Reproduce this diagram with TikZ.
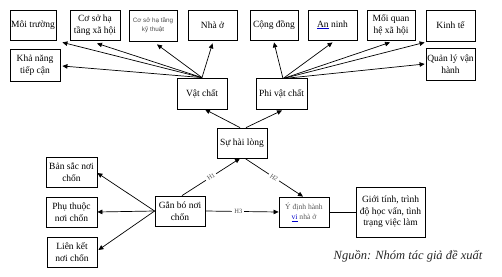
\documentclass[tikz,border=0pt]{standalone}
\usepackage{fontspec}
\setmainfont{Liberation Serif}
\newfontfamily\smallsans{Liberation Sans}
\usetikzlibrary{arrows.meta,calc}
\newcommand\blueul[1]{{\color{blue!80!black}$\underline{\hbox{#1}}$}}
\newcommand\blueulk[1]{{\color{blue!80!black}$\underline{\hbox{\color{black}#1}}$}}
\begin{document}
\begin{tikzpicture}[x=1pt,y=-1pt,
  box/.style={draw,line width=0.8pt,inner sep=0pt,align=center,
    font=\fontsize{9.5}{11.5}\selectfont},
  arr/.style={-{Triangle[length=5pt,width=4.5pt]},line width=0.7pt},
  con/.style={line width=0.7pt},
  hlab/.style={font=\fontsize{6.5}{6.5}\selectfont,text=black!70,fill=white,inner sep=2pt}]
\useasboundingbox (0,0) rectangle (502,276);
% top row
\node[box,minimum width=46pt,minimum height=30pt] (mt) at (33,25) {Môi trường};
\node[box,minimum width=50pt,minimum height=30pt] (xh) at (95,25) {Cơ sở hạ\\tầng xã hội};
\node[box,minimum width=48pt,minimum height=31pt,
  font=\smallsans\fontsize{6.3}{9}\selectfont,text=black!70] (kt) at (153,25.5) {Cơ sở hạ tầng\\kỹ thuật};
\node[box,minimum width=49pt,minimum height=30pt] (nho) at (212.5,25) {Nhà ở};
\node[box,minimum width=48pt,minimum height=30pt] (cd) at (274,25) {Cộng đồng};
\node[box,minimum width=49pt,minimum height=30pt] (an) at (332.5,25) {\blueulk{An} ninh};
\node[box,minimum width=48pt,minimum height=30pt] (qh) at (391,25) {Mối quan\\hệ xã hội};
\node[box,minimum width=49pt,minimum height=31pt] (kte) at (450.5,25.5) {Kinh tế};
\node[box,minimum width=49pt,minimum height=32pt] (ql) at (450.5,64) {Quản lý vận\\hành};
\node[box,minimum width=50pt,minimum height=32pt] (kn) at (35,65) {Khả năng\\tiếp cận};
% middle
\node[box,minimum width=50pt,minimum height=31pt] (vc) at (202,93.5) {Vật chất};
\node[box,minimum width=51pt,minimum height=31pt] (pvc) at (281.5,93.5) {Phi vật chất};
\node[box,minimum width=50pt,minimum height=30pt] (shl) at (242,143) {Sự hài lòng};
% bottom
\node[box,minimum width=51pt,minimum height=30pt] (bs) at (71.5,172) {Bản sắc nơi\\chốn};
\node[box,minimum width=51pt,minimum height=30pt] (pt) at (71.5,212) {Phụ thuộc\\nơi chốn};
\node[box,minimum width=50pt,minimum height=30pt] (lk) at (72,252) {Liên kết\\nơi chốn};
\node[box,minimum width=50pt,minimum height=30pt] (gb) at (180,211) {Gắn bó nơi\\chốn};
\node[box,minimum width=50pt,minimum height=30pt,
  font=\fontsize{7.6}{10}\selectfont,text=black!65] (yd) at (304,212) {Ý định hành\\\blueul{vi} nhà ở};
\node[box,minimum width=69pt,minimum height=50pt] (gt) at (390.5,212) {Giới tính, trình\\độ học vấn, tình\\trạng việc làm};
\node[font=\itshape\fontsize{12.5}{14}\selectfont,text=black!85,inner sep=0pt] (src) at (408,256) {Nguồn: Nhóm tác giả đề xuất};
% arrows from Vat chat
\draw[arr] (vc.north) -- ($(mt.south east)+(6,2)$);
\draw[arr] (vc.north) -- ($(xh.south)+(2,3)$);
\draw[arr] (vc.north) -- ($(kt.south)+(4,3)$);
\draw[arr] (vc.north) -- ($(nho.south)+(0,3)$);
\draw[arr] (vc.north) -- ($(kn.east)+(2,1)$);
% arrows from Phi vat chat
\coordinate (po) at ($(pvc.north)+(1.5,1)$);
\draw[arr] (po) -- ($(cd.south)+(0,2)$);
\draw[arr] (po) -- ($(an.south)+(0,2)$);
\draw[arr] (po) -- ($(qh.south)+(-1,2)$);
\draw[arr] (po) -- ($(kte.south west)+(-1,1)$);
\draw[arr] (po) -- ($(ql.west)+(-1,0)$);
% su hai long
\draw[arr] ($(shl.north)+(-2,0)$) -- ($(vc.south)+(3,0)$);
\draw[arr] ($(shl.north)+(4,0)$) -- ($(pvc.south)+(0.5,1)$);
% hypotheses
\draw[arr] ($(gb.north)+(2,0)$) -- node[hlab,sloped] {H1} ($(shl.south)+(-2,0)$);
\draw[arr] ($(shl.south)+(3,0)$) -- node[hlab,sloped] {H2} ($(yd.north)+(-1,0)$);
\draw[arr] (gb.east) -- node[hlab,pos=0.45] {H3} (yd.west);
\draw[con] (yd.east) -- (gt.west);
% place attachment
\draw[arr] (gb.west) -- ($(bs.east)+(0,1)$);
\draw[arr] (gb.west) -- (pt.east);
\draw[arr] (gb.west) -- ($(lk.east)+(1,-2)$);
\end{tikzpicture}
\end{document}
